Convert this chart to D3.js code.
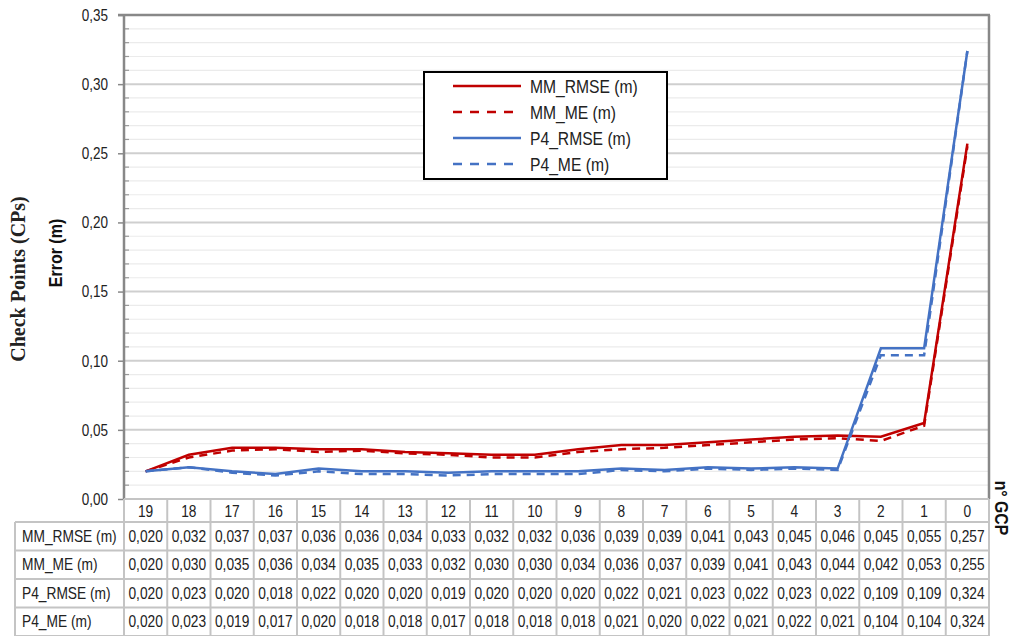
<!DOCTYPE html>
<html><head><meta charset="utf-8">
<script src="https://cdn.jsdelivr.net/npm/d3@7"></script>
<style>
body{margin:0;background:#fff;}
svg{display:block;}
text{font-family:"Liberation Sans",Arial,sans-serif;}
</style></head>
<body>
<svg id="c" width="1018" height="636"></svg>
<script>
const categories = ["19","18","17","16","15","14","13","12","11","10","9","8","7","6","5","4","3","2","1","0"];
const mmRmse = [0.020,0.032,0.037,0.037,0.036,0.036,0.034,0.033,0.032,0.032,0.036,0.039,0.039,0.041,0.043,0.045,0.046,0.045,0.055,0.257];
const mmMe   = [0.020,0.030,0.035,0.036,0.034,0.035,0.033,0.032,0.030,0.030,0.034,0.036,0.037,0.039,0.041,0.043,0.044,0.042,0.053,0.255];
const p4Rmse = [0.020,0.023,0.020,0.018,0.022,0.020,0.020,0.019,0.020,0.020,0.020,0.022,0.021,0.023,0.022,0.023,0.022,0.109,0.109,0.324];
const p4Me   = [0.020,0.023,0.019,0.017,0.020,0.018,0.018,0.017,0.018,0.018,0.018,0.021,0.020,0.022,0.021,0.022,0.021,0.104,0.104,0.324];
const seriesNames = ["MM_RMSE (m)","MM_ME (m)","P4_RMSE (m)","P4_ME (m)"];
const yTicks = [0,0.05,0.10,0.15,0.20,0.25,0.30,0.35];

const series = [
  {name:seriesNames[0], values:mmRmse, color:"#c00000", dash:null},
  {name:seriesNames[1], values:mmMe,   color:"#c00000", dash:"8,6"},
  {name:seriesNames[2], values:p4Rmse, color:"#4472c4", dash:null},
  {name:seriesNames[3], values:p4Me,   color:"#4472c4", dash:"8,6"}
];

const svg = d3.select("#c");
const L = 124, R = 989, T = 15, B = 499;
const x = d3.scaleBand().domain(categories).range([L, R]).padding(0);
const y = d3.scaleLinear().domain([0, 0.35]).range([B, T]);
const fmt = v => d3.format(".2f")(v).replace(".", ",");
const fmt3 = v => d3.format(".3f")(v).replace(".", ",");

// narrow text helper
function ntext(g, str, px, py, opts) {
  const o = Object.assign({size:16, sx:0.86, rot:0, anchor:"start", weight:"normal", fill:"#222", family:null}, opts || {});
  const t = g.append("text")
    .attr("transform", `translate(${px},${py}) rotate(${o.rot}) scale(${o.sx},1)`)
    .attr("text-anchor", o.anchor).attr("font-size", o.size)
    .attr("font-weight", o.weight).attr("fill", o.fill).text(str);
  if (o.family) t.style("font-family", o.family);
  return t;
}

// gridlines minor
const minor = d3.range(0, 0.3501, 0.01).filter(v => Math.round(v*100) % 5 !== 0);
svg.append("g").selectAll("line").data(minor).join("line")
  .attr("x1", L).attr("x2", R).attr("y1", d => y(d)).attr("y2", d => y(d))
  .attr("stroke", "#ebebeb").attr("stroke-width", 1.2);
svg.append("g").selectAll("line").data(yTicks.slice(1, -1)).join("line")
  .attr("x1", L).attr("x2", R).attr("y1", d => y(d)).attr("y2", d => y(d))
  .attr("stroke", "#cfcfcf").attr("stroke-width", 2);

// minor ticks inside
svg.append("g").selectAll("line").data(minor).join("line")
  .attr("x1", L).attr("x2", L + 5).attr("y1", d => y(d)).attr("y2", d => y(d))
  .attr("stroke", "#999").attr("stroke-width", 1.2);

// y axis
const yAxis = d3.axisLeft(y).tickValues(yTicks).tickFormat(fmt).tickSize(6).tickPadding(0);
const ga = svg.append("g").attr("transform", `translate(${L},0)`).call(yAxis);
ga.select(".domain").remove();
ga.selectAll(".tick line").attr("stroke", "#888").attr("stroke-width", 1.5);
ga.selectAll(".tick text").attr("x", 0).attr("transform", "translate(-16,0) scale(0.82,1)")
  .attr("font-size", 16.5).attr("fill", "#222").attr("font-family", null);

// frame: left axis, top, right
svg.append("line").attr("x1", L).attr("x2", L).attr("y1", T - 1).attr("y2", B).attr("stroke", "#888").attr("stroke-width", 2.5);
svg.append("line").attr("x1", L - 6).attr("x2", R + 1).attr("y1", T).attr("y2", T).attr("stroke", "#888").attr("stroke-width", 2.5);
svg.append("line").attr("x1", R).attr("x2", R).attr("y1", T).attr("y2", B).attr("stroke", "#888").attr("stroke-width", 2.5);

// lines
const line = d3.line().x((d, i) => x(categories[i]) + x.bandwidth() / 2).y(d => y(d));
svg.append("g").selectAll("path").data(series).join("path")
  .attr("d", d => line(d.values)).attr("fill", "none")
  .attr("stroke", d => d.color).attr("stroke-width", 2.5)
  .attr("stroke-dasharray", d => d.dash);

// table
const hdrB = 522, rowH = 28.5, tabL = 15;
const tg = svg.append("g");
const gridC = "#c4c4c4";
categories.forEach((c) => {
  tg.append("line").attr("x1", x(c)).attr("x2", x(c)).attr("y1", B).attr("y2", 636)
    .attr("stroke", gridC).attr("stroke-width", 2);
});
tg.append("line").attr("x1", R).attr("x2", R).attr("y1", B).attr("y2", 636).attr("stroke", gridC).attr("stroke-width", 2);
tg.append("line").attr("x1", tabL).attr("x2", tabL).attr("y1", hdrB).attr("y2", 636).attr("stroke", gridC).attr("stroke-width", 2);
tg.append("line").attr("x1", L).attr("x2", R).attr("y1", B).attr("y2", B).attr("stroke", gridC).attr("stroke-width", 2);
for (let r = 0; r <= 4; r++) {
  const yy = hdrB + r * rowH;
  tg.append("line").attr("x1", tabL).attr("x2", R).attr("y1", yy).attr("y2", yy).attr("stroke", gridC).attr("stroke-width", 2);
}
categories.forEach(c => {
  ntext(tg, c, x(c) + x.bandwidth() / 2, (B + hdrB) / 2 + 6, {anchor:"middle", size:16, sx:0.86});
});
series.forEach((s, r) => {
  const cy = hdrB + r * rowH + rowH / 2 + 5.5;
  ntext(tg, s.name, tabL + 7, cy, {size:16, sx:0.86});
  s.values.forEach((v, i) => {
    ntext(tg, fmt3(v), x(categories[i]) + x.bandwidth() / 2, cy, {anchor:"middle", size:16, sx:0.86});
  });
});

// axis titles
ntext(svg, "Error (m)", 62, 253, {rot:-90, anchor:"middle", size:18, sx:0.89, weight:"bold", fill:"#111"});
ntext(svg, "Check Points (CPs)", 25, 279, {rot:-90, anchor:"middle", size:20, sx:1, weight:"bold", fill:"#222", family:"'Liberation Serif','Times New Roman',serif"});
ntext(svg, "n° GCP", 995, 508, {rot:90, anchor:"middle", size:18, sx:0.88, weight:"bold", fill:"#111"});

// legend
const lg = svg.append("g");
lg.append("rect").attr("x", 424).attr("y", 72).attr("width", 243).attr("height", 107)
  .attr("fill", "#fff").attr("stroke", "#000").attr("stroke-width", 2);
series.forEach((s, i) => {
  const ly = 86 + i * 26;
  lg.append("line").attr("x1", 453).attr("x2", 521).attr("y1", ly).attr("y2", ly)
    .attr("stroke", s.color).attr("stroke-width", 2.5).attr("stroke-dasharray", s.dash ? "9,8" : null);
  ntext(lg, s.name, 530, ly + 6.5, {size:18, sx:0.87});
});
</script>
</body></html>
